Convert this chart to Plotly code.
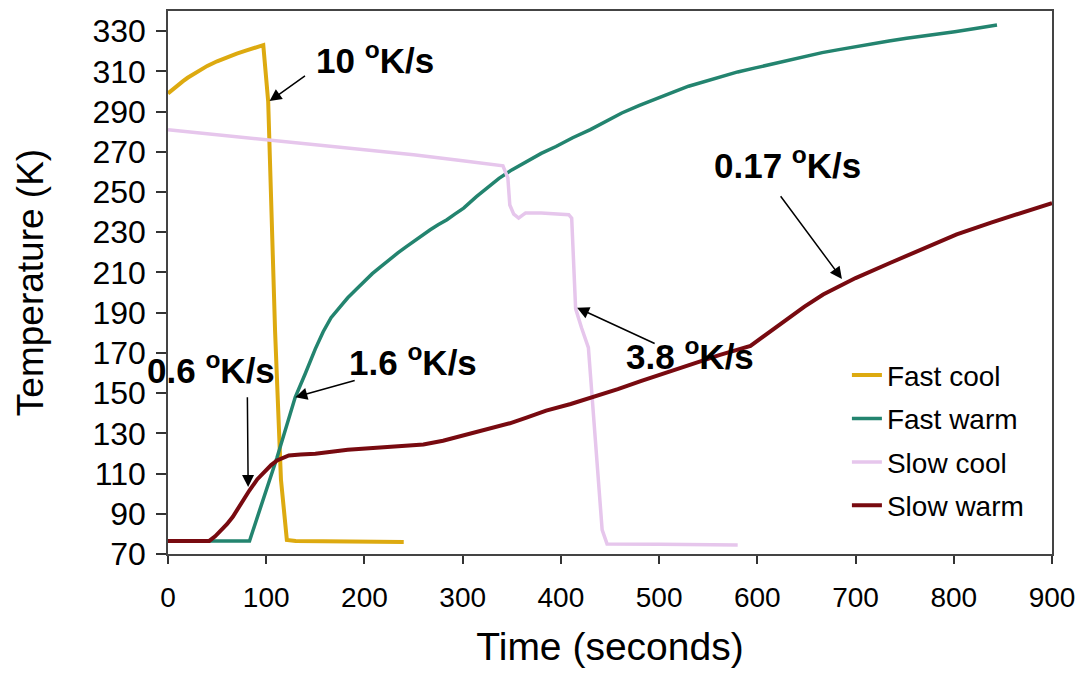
import plotly.graph_objects as go

# ---- data -------------------------------------------------------------
fast_cool_t = [0, 5, 10, 15, 20, 25, 30, 40, 50, 60, 70, 80, 90, 97,
               102, 105, 109, 115, 121, 130, 160, 200, 240]
fast_cool_T = [299, 301.2, 303.2, 305, 306.8, 308.4, 310, 312.7, 315, 317, 318.8, 320.4, 321.9, 323,
               295, 249, 181, 107, 77, 76.5, 76.5, 76.2, 76]

fast_warm_t = [0, 20, 40, 60, 83, 111, 129.5, 139.6, 146, 150, 158, 166, 175, 183, 192, 200, 208,
               217, 225, 234, 242, 250, 258, 267, 275, 284, 292, 301, 314, 325, 337, 350, 365,
               380, 395, 412, 430, 446, 462, 480, 500, 515, 530, 548, 565, 580, 598, 615, 630,
               648, 666, 683, 700, 717, 734, 752, 770, 785, 801, 822, 844]
fast_warm_T = [76.5, 76.5, 76.5, 76.5, 76.5, 118, 147.9, 159.5, 167.7, 172, 180.5, 187.5, 192.8,
               197.4, 201.8, 205.6, 209.4, 213, 216.4, 219.7, 222.6, 225.4, 228.3, 231.2, 233.7,
               236.2, 239, 242, 247.7, 252.3, 256.8, 261, 265.3, 269.2, 272.6, 277, 281, 285.3,
               289.3, 293.1, 296.7, 299.8, 302.6, 305.2, 307.6, 309.7, 311.7, 313.7, 315.5, 317.4,
               319.3, 320.8, 322.3, 323.7, 325.1, 326.4, 327.5, 328.6, 329.7, 331.3, 333]

slow_cool_t = [0, 50, 100, 150, 200, 250, 300, 341, 346, 348, 352, 357, 361, 364, 380, 400, 408,
               411, 415, 421, 428, 442, 447, 500, 580]
slow_cool_T = [281, 278.5, 276, 273.5, 271, 268.5, 265.5, 263, 257, 243.5, 239, 237, 238.5, 239.5,
               239.5, 239, 238.7, 237, 192, 182.5, 172.6, 82, 75, 74.8, 74.5]

slow_warm_t = [0, 20, 42, 48, 55, 60, 66, 74, 83, 91, 99, 105, 111, 117, 123, 135, 150, 183, 217,
               260, 280, 301, 325, 348, 365, 385, 410, 432, 458, 482, 508, 532, 562, 593, 600,
               612, 630, 648, 667, 700, 735, 770, 803, 838, 871, 900]
slow_warm_T = [76.5, 76.5, 76.5, 78.8, 82, 84.8, 88.5, 95, 101.7, 107.2, 111.6, 114.2, 116.5,
               118, 119, 119.5, 119.8, 121.8, 123.1, 124.5, 126.3, 128.9, 131.8, 135, 137.8,
               141.3, 144.6, 147.9, 152, 156.1, 160.3, 164.4, 169, 173.5, 176, 180, 186.5,
               193, 199, 207.2, 214.7, 222, 228.9, 234.8, 239.8, 244.5]

x_ticks = [0, 100, 200, 300, 400, 500, 600, 700, 800, 900]
y_ticks = [70, 90, 110, 130, 150, 170, 190, 210, 230, 250, 270, 290, 310, 330]

# rate labels: text, label position, arrow tail, arrow head
rate_text = ["10 <sup>o</sup>K/s", "1.6 <sup>o</sup>K/s", "0.6 <sup>o</sup>K/s",
             "3.8 <sup>o</sup>K/s", "0.17 <sup>o</sup>K/s"]
rate_pos = [(210.5, 316.6), (249.5, 166.6), (44, 162.6), (531.5, 169.5), (630.7, 264.3)]
arrow_tail = [(141, 308.3), (191.6, 156.5), (80.8, 148.7), (497, 174.3), (622.6, 248.6)]
arrow_head = [(103.4, 295.2), (129.6, 148), (81.6, 103.3), (416.5, 192.5), (686.1, 206.8)]

FONT = "Liberation Sans, Arial, sans-serif"

series = [
    ("Fast cool", fast_cool_t, fast_cool_T, "#DDAA10", 4),
    ("Fast warm", fast_warm_t, fast_warm_T, "#23846F", 3.5),
    ("Slow cool", slow_cool_t, slow_cool_T, "#E6C6EC", 3.5),
    ("Slow warm", slow_warm_t, slow_warm_T, "#780A10", 4),
]

fig = go.Figure()
for i, (name, t, T, color, w) in enumerate(series):
    fig.add_trace(go.Scatter(
        x=t, y=T, mode="lines", name=name, legendgroup=f"g{i}",
        line=dict(color=color, width=w),
    ))

annotations = []
for txt, (px, py) in zip(rate_text, rate_pos):
    annotations.append(dict(
        x=px, y=py, xref="x", yref="y", text=f"<b>{txt}</b>", showarrow=False,
        font=dict(family=FONT, size=35, color="black"),
    ))
for (tx, ty), (hx, hy) in zip(arrow_tail, arrow_head):
    annotations.append(dict(
        x=hx, y=hy, ax=tx, ay=ty, xref="x", yref="y", axref="x", ayref="y",
        text="", showarrow=True, arrowhead=2, arrowsize=1.6, arrowwidth=1.5,
        arrowcolor="black", standoff=0, startstandoff=0,
    ))

fig.update_layout(
    width=1084, height=686, autosize=False,
    margin=dict(l=168, r=22, t=9, b=132),
    paper_bgcolor="white", plot_bgcolor="white",
    font=dict(family=FONT, color="black"),
    showlegend=True,
    legend=dict(
        x=0.768, y=0.375, xanchor="left", yanchor="top",
        font=dict(family=FONT, size=28, color="black"),
        bgcolor="rgba(0,0,0,0)", tracegroupgap=4,
    ),
    annotations=annotations,
    xaxis=dict(
        range=[0, 900], tickvals=x_ticks, ticks="outside", ticklen=8, tickwidth=1.5,
        tickcolor="#333", showgrid=False, zeroline=False, showline=True,
        linecolor="#444", linewidth=1.5, mirror=True,
        tickfont=dict(family=FONT, size=28, color="black"),
        ticklabelstandoff=10, ticklabeloverflow="allow",
        title=dict(text="Time (seconds)", font=dict(family=FONT, size=39, color="black"),
                   standoff=20),
    ),
    yaxis=dict(
        range=[70, 340], tickvals=y_ticks, ticks="outside", ticklen=10, tickwidth=1.5,
        tickcolor="#333", showgrid=False, zeroline=False, showline=True,
        linecolor="#444", linewidth=1.5, mirror=True,
        tickfont=dict(family=FONT, size=32, color="black"),
        ticklabelstandoff=4,
        title=dict(text="Temperature (K)", font=dict(family=FONT, size=37, color="black"),
                   standoff=38),
    ),
)

fig.write_html("out.html")
